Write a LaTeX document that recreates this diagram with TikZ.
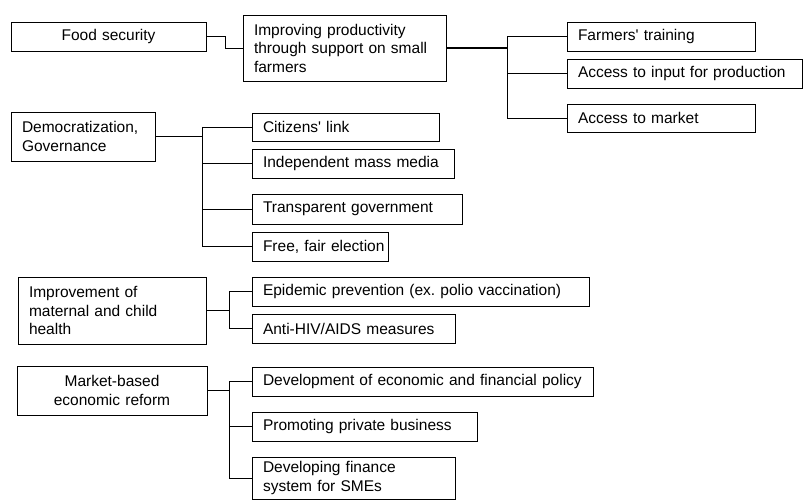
\documentclass[tikz,border=0pt]{standalone}
\usepackage{fontspec}
\setmainfont{Liberation Sans}
\frenchspacing
\begin{document}
\begin{tikzpicture}[x=1pt,y=-1pt,
  box/.style={draw, line width=0.9pt, inner xsep=11pt, inner ysep=0pt,
    font=\fontsize{15.5}{18.5}\selectfont, align=left, anchor=center},
  link/.style={line width=0.9pt},
  trunk/.style={line width=1.9pt}]
\useasboundingbox (0,0) rectangle (803,500);

% --- Food security ---
\node[box, align=center, text width=173pt, minimum height=29pt] (food) at (108.5,36.5) {Food security};
\node[box, text width=181pt, minimum height=66pt] (impr) at (344.5,48)
  {Improving productivity\\through support on small\\farmers};
\node[box, text width=166pt, minimum height=29pt] (ft) at (661,36.5) {Farmers\textquotesingle{} training};
\node[box, text width=213pt, minimum height=29pt] (ai) at (684.5,73.5) {\mbox{Access to input for production}};
\node[box, text width=166pt, minimum height=28pt] (am) at (661,118) {Access to market};

% --- Democratization ---
\node[box, text width=122pt, minimum height=49pt] (dem) at (83,136.5) {Democratization,\\Governance};
\node[box, text width=165pt, minimum height=28pt] (cl) at (345.5,127) {Citizens\textquotesingle{} link};
\node[box, text width=180pt, minimum height=29pt] (im) at (353,163.5) {\mbox{Independent mass media}};
\node[box, text width=188pt, minimum height=30pt] (tg) at (357,209) {\mbox{Transparent government}};
\node[box, text width=114pt, minimum height=29pt] (ff) at (320,246.5) {\mbox{Free, fair election}};

% --- Health ---
\node[box, text width=166pt, minimum height=67pt] (imp) at (112,310.5)
  {Improvement of\\maternal and child\\health};
\node[box, text width=315pt, minimum height=29pt] (ep) at (420.5,291.5) {\mbox{Epidemic prevention (ex. polio vaccination)}};
\node[box, text width=181pt, minimum height=29pt] (ah) at (353.5,328.5) {\mbox{Anti-HIV/AIDS measures}};

% --- Market reform ---
\node[box, align=center, text width=168pt, minimum height=49pt] (mk) at (112,390.5) {Market-based\\economic reform};
\node[box, text width=319pt, minimum height=29pt] (dev) at (422.5,381.5) {\mbox{Development of economic and financial policy}};
\node[box, text width=203pt, minimum height=29pt] (pp) at (364.5,426.5) {\mbox{Promoting private business}};
\node[box, text width=181pt, minimum height=42pt] (df) at (353.5,478) {Developing finance\\system for SMEs};

% --- connectors ---
\draw[link] (food.east) -- ++(19,0) |- (impr.west);

\coordinate (b1) at (507,48);
\draw[trunk] (impr.east) -- (impr.east -| b1);
\draw[link] (b1 |- ft.west) -- (b1 |- am.west);
\foreach \n in {ft,ai,am} \draw[link] (b1 |- \n.west) -- (\n.west);

\coordinate (b2) at (202,0);
\draw[trunk] (dem.east) -- (dem.east -| b2);
\draw[link] (b2 |- cl.west) -- (b2 |- ff.west);
\foreach \n in {cl,im,tg,ff} \draw[link] (b2 |- \n.west) -- (\n.west);

\coordinate (b3) at (229,0);
\draw[trunk] (imp.east) -- (imp.east -| b3);
\draw[link] (b3 |- ep.west) -- (b3 |- ah.west);
\foreach \n in {ep,ah} \draw[link] (b3 |- \n.west) -- (\n.west);

\coordinate (b4) at (229,0);
\draw[trunk] (mk.east) -- (mk.east -| b4);
\draw[link] (b4 |- dev.west) -- (b4 |- df.west);
\foreach \n in {dev,pp,df} \draw[link] (b4 |- \n.west) -- (\n.west);
\end{tikzpicture}
\end{document}
